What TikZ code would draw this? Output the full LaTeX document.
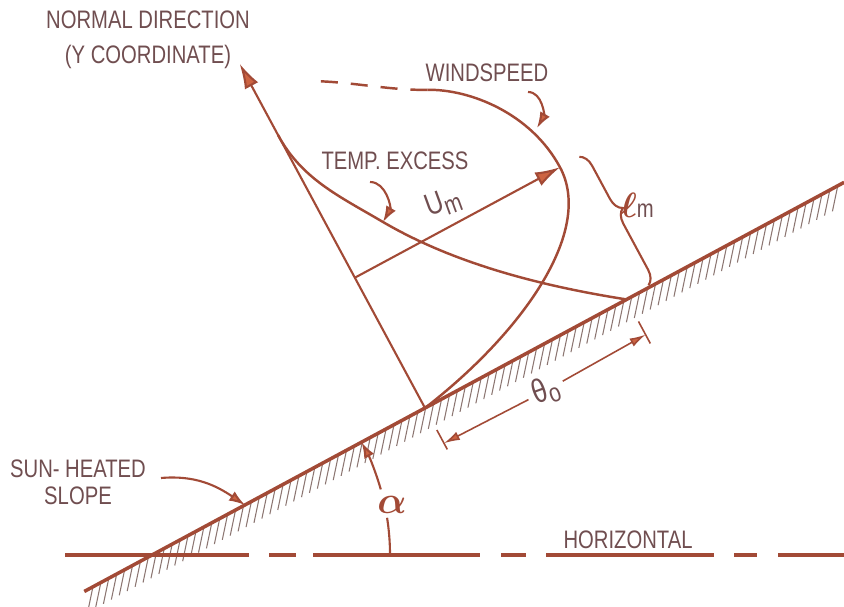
\documentclass[tikz,border=0pt]{standalone}
\usepackage{amsmath}
\usepackage{fontspec}
\newfontfamily\lbfont[FakeStretch=0.8]{Liberation Sans}
\usetikzlibrary{calc,arrows.meta,decorations.pathreplacing}

\definecolor{lineclr}{RGB}{162,74,54}
\definecolor{textclr}{RGB}{112,78,80}
\definecolor{hatchclr}{RGB}{140,118,114}
\definecolor{tipclr}{RGB}{205,100,66}

\tikzset{
  lbl/.style={text=textclr, font=\lbfont\fontsize{7.2}{10}\selectfont, inner sep=0pt, align=center},
  profile/.style={lineclr, line width=0.7pt},
  bigtip/.style={-{Latex[length=2.5mm, width=1.5mm, fill=tipclr]}},
  smalltip/.style={-{Latex[length=1.6mm, width=1.1mm, fill=tipclr]}},
  pointer/.style={lineclr, line width=0.6pt, smalltip},
  dimline/.style={lineclr, line width=0.45pt, -{Latex[length=1.6mm, width=0.9mm, fill=tipclr]}},
  hatch/.style={hatchclr, line width=0.3pt},
}

\begin{document}
\begin{tikzpicture}
  \useasboundingbox (0,0) rectangle (8.44,6.06);
  \def\slopeang{28.3}

  % foot of the normal on the slope
  \coordinate (O) at (4.25,1.98);
  \coordinate (S1) at ($(O)+(180+\slopeang:3.87)$);
  \coordinate (S2) at ($(O)+(\slopeang:4.76)$);
  % slope meets the horizontal
  \coordinate (I)  at (1.52,0.51);
  \coordinate (H0) at (0.65,0.51);
  \coordinate (H1) at (8.44,0.51);

  % frame along the slope: x along it, y normal to it
  \begin{scope}[shift={(O)}, rotate=\slopeang]
    \foreach \s in {-3.78,-3.69,...,4.76}
      \draw[hatch] (\s,-0.01) -- ++(-0.16,-0.19);

    \coordinate (Ntip) at (0,3.91);
    \coordinate (Um0)  at (0,1.48);
    \coordinate (Um1)  at (2.33,1.48);
    \coordinate (T0)   at (2.29,0);

    % windspeed profile
    \draw[profile] (0,0) .. controls (1.2,0.2) and (2.33,0.75) .. (Um1)
                         .. controls (2.33,2.1) and (1.9,2.6) .. (1.53,2.79);
    \draw[profile, dash pattern=on 0.17cm off 0.13cm]
      (1.53,2.79) .. controls (1.2,2.96) and (0.9,3.22) .. (0.58,3.40);

    % temperature excess profile
    \draw[profile] (T0) .. controls (1.5,0.6) and (0.9,1.2) .. (0.51,1.84)
                        .. controls (0.25,2.27) and (0,2.6) .. (0,3.1);

    % normal and U_m
    \draw[lineclr, line width=0.6pt, bigtip] (0,0) -- (Ntip);
    \draw[lineclr, line width=0.6pt, bigtip] (Um0) -- (Um1);

    % l_m brace
    \draw[lineclr, line width=0.6pt, decorate,
          decoration={brace, amplitude=0.14cm, aspect=0.45}] (2.55,1.48) -- (2.55,0.02);

    % theta_0 dimension
    \coordinate (dL) at (0,-0.40);
    \coordinate (dR) at (2.29,-0.40);
    \draw[lineclr, line width=0.45pt] (0,-0.25) -- (0,-0.47);
    \draw[lineclr, line width=0.45pt] (2.29,-0.25) -- (2.29,-0.50);
    \node[lbl, font=\lbfont\fontsize{9.5}{10}\selectfont, inner sep=1.5pt, rotate=20] (th) at (1.145,-0.42)
      {θ\raisebox{-0.3ex}{\fontsize{7.5}{8}\selectfont o}};
    \draw[dimline] (th) -- (dL);
    \draw[dimline] (th) -- (dR);
  \end{scope}

  % horizontal and slope
  \draw[lineclr, line width=1.1pt,
        dash pattern=on 1.84cm off 0.2cm on 0.27cm off 0.17cm on 1.67cm off 0.21cm on 0.25cm off 0.2cm
                     on 1.68cm off 0.2cm on 0.23cm off 0.21cm on 1cm] (H0) -- (H1);
  \draw[lineclr, line width=1pt] (S1) -- (S2);

  % angle alpha
  \node[text=lineclr, font=\fontsize{11}{12}\selectfont, inner sep=0pt] (alpha) at (3.92,1.01) {$\boldsymbol{\alpha}$};
  \draw[lineclr, line width=0.6pt] ($(I)+(0:2.38)$) arc[start angle=0, end angle=9, radius=2.38];
  \draw[lineclr, line width=0.6pt, smalltip] ($(I)+(16:2.38)$) arc[start angle=16, end angle=\slopeang, radius=2.38];

  % labels
  \node[lbl] (normlbl) at (1.48,5.66) {NORMAL DIRECTION\\(Y COORDINATE)};
  \node[lbl] (windlbl) at (4.87,5.335) {WINDSPEED};
  \node[lbl] (templbl) at (3.95,4.45) {TEMP. EXCESS};
  \node[lbl] (sunlbl)  at (0.78,1.24) {SUN- HEATED\\[-2.3pt]SLOPE};
  \node[lbl] (horlbl)  at (6.28,0.66) {HORIZONTAL};
  \node[lbl, font=\lbfont\fontsize{8.8}{10}\selectfont, rotate=20] (umlbl) at (4.43,4.03)
    {U\raisebox{-0.35ex}{\fontsize{7.5}{8}\selectfont m}};
  \node[lbl] (lmlbl) at (6.37,4.01) {\textcolor{lineclr}{\fontsize{10}{12}\selectfont$\boldsymbol{\ell}$}m};

  % pointers
  \coordinate (wsA) at (5.28,5.14);
  \coordinate (wsB) at (5.37,4.78);
  \coordinate (teA) at (3.70,4.24);
  \coordinate (teB) at (3.83,3.84);
  \coordinate (suA) at (1.61,1.28);
  \coordinate (suB) at (2.45,1.01);
  \draw[pointer] (wsA) to[out=0, in=60] (wsB);
  \draw[pointer] (teA) to[out=0, in=60] (teB);
  \draw[pointer] (suA) to[out=5, in=146] (suB);
\end{tikzpicture}
\end{document}
